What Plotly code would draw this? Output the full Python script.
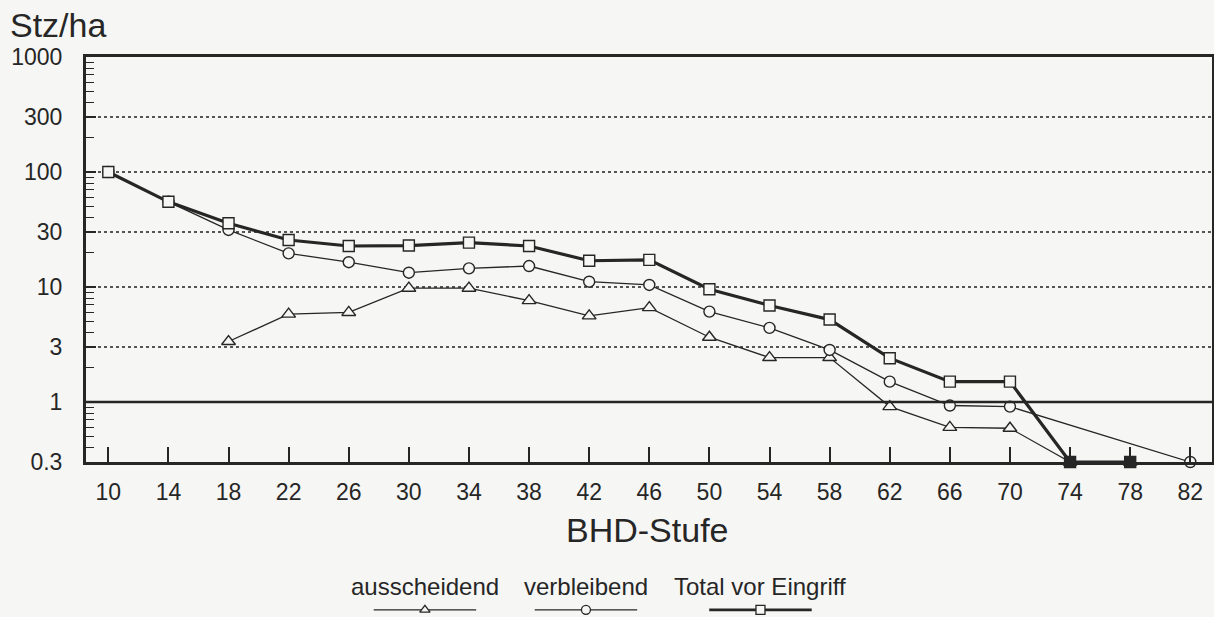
import plotly.graph_objects as go

# ---- data ----
bhd_stufe = [10, 14, 18, 22, 26, 30, 34, 38, 42, 46, 50, 54, 58, 62, 66, 70, 74, 78, 82]
ausscheidend = [None, None, 3.35, 5.8, 6.0, 9.75, 9.75, 7.6, 5.6, 6.6, 3.65, 2.43, 2.43, 0.91, 0.6, 0.59, 0.3, 0.3, None]
verbleibend = [100, 55, 31.3, 19.6, 16.4, 13.3, 14.5, 15.2, 11.1, 10.4, 6.1, 4.4, 2.83, 1.5, 0.93, 0.91, None, None, 0.3]
total = [100, 55, 35.8, 25.6, 22.7, 22.9, 24.3, 22.7, 16.9, 17.2, 9.55, 6.9, 5.2, 2.4, 1.5, 1.5, 0.3, 0.3, None]
series_names = ["ausscheidend", "verbleibend", "Total vor Eingriff"]
y_tickvals = [0.3, 1, 3, 10, 30, 100, 300, 1000]
y_ticktext = ["0.3", "1", "3", "10", "30", "100", "300", "1000"]
y_floor = 0.3

# ---- styling ----
BG = "#f6f6f4"
INK = "#262626"
FONT = "Liberation Sans, Arial, sans-serif"
symbols = ["triangle-up", "circle", "square"]
widths = [1.3, 1.3, 3.2]
msizes = [12, 11, 11]

fig = go.Figure()
series = [ausscheidend, verbleibend, total]
for i, (name, vals) in enumerate(zip(series_names, series)):
    if i == 2:
        fills = [INK if (v is not None and v <= y_floor) else BG for v in vals]
    else:
        fills = BG
    fig.add_trace(go.Scatter(
        x=bhd_stufe, y=vals, name=name, mode="lines+markers",
        connectgaps=True, cliponaxis=False,
        line=dict(color=INK, width=widths[i]),
        marker=dict(symbol=symbols[i], size=msizes[i], color=fills,
                    line=dict(color=INK, width=1.4)),
        showlegend=False, xaxis="x", yaxis="y",
    ))

# ---- custom legend (text above a line sample with centred marker) ----
legend_centers = [0.301, 0.444, 0.599]
legend_half = 0.0455
for i, name in enumerate(series_names):
    c = legend_centers[i]
    fig.add_trace(go.Scatter(
        x=[c - legend_half, c + legend_half], y=[0.085, 0.085], mode="lines",
        line=dict(color=INK, width=widths[i] * 0.9), showlegend=False,
        xaxis="x2", yaxis="y2", hoverinfo="skip", cliponaxis=False))
    fig.add_trace(go.Scatter(
        x=[c], y=[0.085], mode="markers",
        marker=dict(symbol=symbols[i], size=9, color=BG, line=dict(color=INK, width=1.3)),
        showlegend=False, xaxis="x2", yaxis="y2", hoverinfo="skip", cliponaxis=False))
    fig.add_annotation(x=c, y=0.36, xref="x2", yref="y2", text=name, showarrow=False,
                       font=dict(size=24, color=INK, family=FONT), xanchor="center", yanchor="middle")

main_bottom = (617 - 462) / 560

fig.update_layout(
    width=1214, height=617,
    margin=dict(l=86, r=2, t=57, b=0),
    paper_bgcolor=BG, plot_bgcolor=BG,
    font=dict(family=FONT, color=INK, size=23),
    template="none",
    xaxis=dict(
        range=[8.515, 83.445], tickmode="array", tickvals=bhd_stufe,
        ticktext=[str(v) for v in bhd_stufe],
        ticks="inside", ticklen=15, tickwidth=1.5, tickcolor=INK,
        showline=True, linewidth=3, linecolor=INK, mirror=True,
        showgrid=False, zeroline=False, ticklabelstandoff=7,
        tickfont=dict(size=23, color=INK), automargin=False, anchor="y",
    ),
    yaxis=dict(
        type="log", range=[-0.5229, 3], domain=[main_bottom, 1],
        tickmode="array", tickvals=y_tickvals, ticktext=y_ticktext,
        ticks="inside", ticklen=10, tickwidth=1.5, tickcolor=INK,
        minor=dict(ticks="inside", ticklen=8, tickwidth=1.3, tickcolor=INK,
                   tickvals=[k * 10 ** e for e in range(-1, 3) for k in range(2, 10)],
                   showgrid=False),
        showline=True, linewidth=3, linecolor=INK, mirror=True,
        showgrid=True, gridcolor="#555555", griddash="dot", gridwidth=1.6,
        zeroline=False, ticklabelstandoff=16,
        tickfont=dict(size=23, color=INK), automargin=False, anchor="x",
    ),
    xaxis2=dict(domain=[0, 1], range=[0, 1], visible=False, anchor="y2"),
    yaxis2=dict(domain=[0, 0.15], range=[0, 1], visible=False, anchor="x2"),
)

# solid reference line at 1 Stz/ha
fig.add_shape(type="line", xref="paper", yref="y", x0=0, x1=1, y0=1, y1=1,
              line=dict(color=INK, width=2.5), layer="above")

fig.add_annotation(text="Stz/ha", xref="paper", yref="paper", x=-0.0693, y=(617 - 25) / 560,
                   xanchor="left", yanchor="middle", showarrow=False,
                   font=dict(size=34, color=INK, family=FONT))
fig.add_annotation(text="BHD-Stufe", xref="paper", yref="paper", x=(647 - 86) / 1126,
                   y=(617 - 530) / 560, xanchor="center", yanchor="middle", showarrow=False,
                   font=dict(size=34, color=INK, family=FONT))

fig.write_html("out.html", config={"displayModeBar": False},
               post_script="document.body.style.margin='0px';document.body.style.overflow='hidden';")
